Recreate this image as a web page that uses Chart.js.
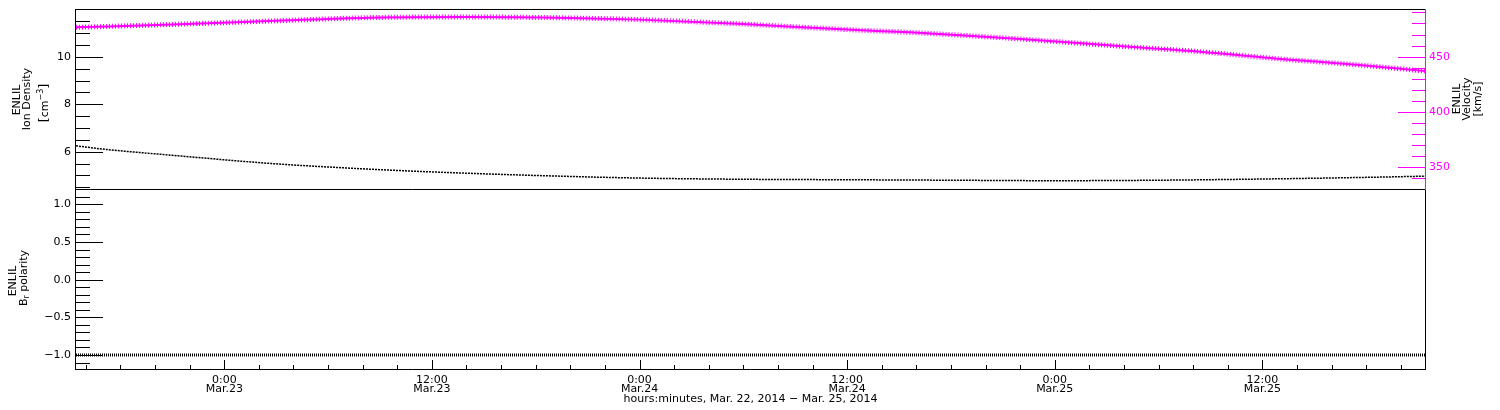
<!DOCTYPE html>
<html>
<head>
<meta charset="utf-8">
<script src="https://cdn.jsdelivr.net/npm/chart.js@4.4.1/dist/chart.umd.min.js"></script>
<style>
  html, body { margin: 0; padding: 0; background: #fff; }
  #wrap { position: relative; width: 1500px; height: 410px; overflow: hidden; }
  .pane { position: absolute; left: 0; width: 1500px; }
  #top { top: 0; height: 190px; }
  #bottom { top: 190px; height: 220px; }
</style>
</head>
<body>
<div id="wrap">
  <div class="pane" id="top"><canvas id="upper"></canvas></div>
  <div class="pane" id="bottom"><canvas id="lower"></canvas></div>
</div>
<script>
// time is in hours since Mar.23 0:00
const densityTimes  = [-8.57, -7, -3, 2.6, 8, 12, 18, 24, 30, 36, 42, 48, 54, 60, 66, 69.4];
const densityValues = [6.25, 6.11, 5.85, 5.51, 5.28, 5.15, 5.0, 4.89, 4.84, 4.82, 4.80, 4.78, 4.80, 4.85, 4.92, 4.97];

const velocityTimes  = [-8.57, -3, 2.6, 8.4, 14, 20, 24, 30, 36, 39.6, 43, 46, 52.5, 56.4, 61, 65.6, 69.4];
const velocityValues = [476.5, 479.2, 482.2, 485.3, 485.9, 485.0, 483.5, 479.5, 474.5, 472.0, 469.0, 466.0, 458.7, 454.5, 448.0, 442.5, 437.0];

const polarityTimes  = [-8.57, 0, 24, 48, 69.4];
const polarityValues = [-1, -1, -1, -1, -1];

const timeTicks = [0, 12, 24, 36, 48, 60];
const timeTickLabels = [
  ['0:00', 'Mar.23'], ['12:00', 'Mar.23'],
  ['0:00', 'Mar.24'], ['12:00', 'Mar.24'],
  ['0:00', 'Mar.25'], ['12:00', 'Mar.25']
];
const densityTicks = [6, 8, 10];
const velocityTicks = [350, 400, 450];
const polarityTicks = [-1, -0.5, 0, 0.5, 1];

const X_MIN = -8.57, X_MAX = 69.4;
const MAGENTA = '#ff00ff';
const FONT = 'DejaVu Sans';

function steps(from, to, step, skip) {
  const out = [];
  for (let i = 0; ; i++) {
    const v = +(from + i * step).toFixed(4);
    if (v > to + 1e-9) break;
    if (!skip.some(s => Math.abs(s - v) < 1e-6)) out.push(v);
  }
  return out;
}

function toPoints(xs, ys) {
  return xs.map((x, i) => ({ x: x, y: ys[i] }));
}

// draws a rotated (bottom-to-top) label made of pieces
function drawUpText(ctx, cx, cy, pieces) {
  ctx.save();
  ctx.translate(cx, cy);
  ctx.rotate(-Math.PI / 2);
  ctx.textBaseline = 'middle';
  ctx.textAlign = 'left';
  let total = 0;
  pieces.forEach(p => {
    ctx.font = (p.size || 11) + 'px "' + FONT + '"';
    p.w = ctx.measureText(p.text).width;
    total += p.w;
  });
  let x = -total / 2;
  pieces.forEach(p => {
    ctx.font = (p.size || 11) + 'px "' + FONT + '"';
    ctx.fillStyle = p.color || '#000';
    ctx.fillText(p.text, x, p.dy || 0);
    x += p.w;
  });
  ctx.restore();
}

const rootFrame = {
  id: 'rootFrame',
  afterDraw(chart, args, opts) {
    const ctx = chart.ctx;
    const a = chart.chartArea;
    ctx.save();
    ctx.lineWidth = 1;
    (opts.edges || []).forEach(e => {
      ctx.strokeStyle = e.color;
      ctx.beginPath();
      if (e.side === 'top') { ctx.moveTo(a.left - 1, a.top - 0.5); ctx.lineTo(a.right + 1, a.top - 0.5); }
      if (e.side === 'bottom') { ctx.moveTo(a.left - 1, a.bottom + 0.5); ctx.lineTo(a.right + 1, a.bottom + 0.5); }
      if (e.side === 'left') { ctx.moveTo(a.left - 0.5, a.top - 1); ctx.lineTo(a.left - 0.5, a.bottom + 1); }
      if (e.side === 'right') { ctx.moveTo(a.right + 0.5, a.top - 1); ctx.lineTo(a.right + 0.5, a.bottom + 1); }
      ctx.stroke();
    });
    (opts.marks || []).forEach(t => {
      const scale = chart.scales[t.axis];
      ctx.strokeStyle = t.color;
      ctx.beginPath();
      const mark = (v, len) => {
        const p = Math.round(scale.getPixelForValue(v)) + 0.5;
        if (t.side === 'left') { ctx.moveTo(a.left, p); ctx.lineTo(a.left + len, p); }
        else if (t.side === 'right') { ctx.moveTo(a.right, p); ctx.lineTo(a.right - len, p); }
        else { ctx.moveTo(p, a.bottom); ctx.lineTo(p, a.bottom - len); }
      };
      t.major.forEach(v => mark(v, t.majorLen));
      t.minor.forEach(v => mark(v, t.minorLen));
      ctx.stroke();
    });
    (opts.titles || []).forEach(tt => drawUpText(ctx, tt.x, tt.y, tt.pieces));
    ctx.restore();
  }
};

function yAxis(pos, min, max, list, color, width, fmt) {
  return {
    type: 'linear', position: pos, min: min, max: max,
    afterBuildTicks: s => { s.ticks = list.map(v => ({ value: v })); },
    afterFit: s => { s.width = width; s.paddingTop = 0; s.paddingBottom = 0; },
    grid: { display: false, drawTicks: false },
    border: { display: false },
    ticks: {
      color: color, padding: pos === 'left' ? 5 : 4,
      font: { family: FONT, size: 11 },
      callback: fmt
    }
  };
}

const upper = new Chart(document.getElementById('upper'), {
  type: 'line',
  data: {
    datasets: [
      {
        data: toPoints(densityTimes, densityValues), yAxisID: 'y',
        borderColor: '#000', borderWidth: 1.5, borderDash: [2, 1],
        pointRadius: 0, cubicInterpolationMode: 'monotone'
      },
      {
        data: toPoints(velocityTimes, velocityValues), yAxisID: 'y1',
        borderColor: MAGENTA, borderWidth: 2,
        pointRadius: 0, cubicInterpolationMode: 'monotone'
      },
      {
        data: toPoints(velocityTimes, velocityValues), yAxisID: 'y1',
        borderColor: MAGENTA, borderWidth: 5, borderDash: [1, 2], borderCapStyle: 'butt',
        pointRadius: 0, cubicInterpolationMode: 'monotone'
      }
    ]
  },
  options: {
    responsive: true, maintainAspectRatio: false, animation: false, devicePixelRatio: 1,
    layout: { padding: { top: 10, bottom: 1, left: 0, right: 0 } },
    plugins: {
      legend: { display: false }, tooltip: { enabled: false },
      rootFrame: {
        edges: [
          { side: 'top', color: '#000' }, { side: 'bottom', color: '#000' },
          { side: 'left', color: '#000' }, { side: 'right', color: MAGENTA }
        ],
        marks: [
          { axis: 'y', side: 'left', color: '#000', major: densityTicks, minor: steps(4.5, 11.5, 0.5, densityTicks), majorLen: 27, minorLen: 14 },
          { axis: 'y1', side: 'right', color: MAGENTA, major: velocityTicks, minor: steps(340, 490, 10, velocityTicks), majorLen: 27, minorLen: 13 }
        ],
        titles: [
          { x: 16.7, y: 100, pieces: [{ text: 'ENLIL' }] },
          { x: 27, y: 99, pieces: [{ text: 'Ion Density' }] },
          { x: 45, y: 103, pieces: [{ text: '[', size: 13 }, { text: 'cm' }, { text: '\u22123', size: 8, dy: -4 }, { text: ']', size: 13 }] },
          { x: 1457, y: 99, pieces: [{ text: 'ENLIL' }] },
          { x: 1467.5, y: 99, pieces: [{ text: 'Velocity' }] },
          { x: 1478, y: 99, pieces: [{ text: '[km/s]' }] }
        ]
      }
    },
    scales: {
      x: { type: 'linear', min: X_MIN, max: X_MAX, display: false },
      y: yAxis('left', 4.43, 11.97, densityTicks, '#000', 76, v => String(v)),
      y1: yAxis('right', 330.4, 492.2, velocityTicks, MAGENTA, 75, v => String(v))
    }
  },
  plugins: [rootFrame]
});

const lower = new Chart(document.getElementById('lower'), {
  type: 'line',
  data: {
    datasets: [{
      data: toPoints(polarityTimes, polarityValues),
      borderColor: '#000', borderWidth: 3, borderDash: [1, 1], borderCapStyle: 'butt',
      pointRadius: 0
    }]
  },
  options: {
    responsive: true, maintainAspectRatio: false, animation: false, devicePixelRatio: 1,
    layout: { padding: { top: 0, bottom: 0, left: 0, right: 0 } },
    plugins: {
      legend: { display: false }, tooltip: { enabled: false },
      rootFrame: {
        edges: [
          { side: 'bottom', color: '#000' }, { side: 'left', color: '#000' }, { side: 'right', color: '#000' }
        ],
        marks: [
          { axis: 'y', side: 'left', color: '#000', major: polarityTicks, minor: steps(-1.1, 1.1, 0.1, polarityTicks), majorLen: 27, minorLen: 14 },
          { axis: 'x', side: 'bottom', color: '#000', major: timeTicks, minor: steps(-8, 68, 2, timeTicks), majorLen: 9, minorLen: 4 }
        ],
        titles: [
          { x: 13.3, y: 91, pieces: [{ text: 'ENLIL' }] },
          { x: 24, y: 88, pieces: [{ text: 'B' }, { text: 'r', size: 8, dy: 3 }, { text: ' polarity' }] }
        ]
      }
    },
    scales: {
      x: {
        type: 'linear', position: 'bottom', min: X_MIN, max: X_MAX,
        afterBuildTicks: s => { s.ticks = timeTicks.map(v => ({ value: v })); },
        afterFit: s => { s.height = 41; s.paddingLeft = 0; s.paddingRight = 0; },
        grid: { display: false, drawTicks: false },
        border: { display: false },
        ticks: {
          autoSkip: false, maxRotation: 0, minRotation: 0, padding: 7, color: '#000',
          font: { family: FONT, size: 11, lineHeight: '9px' },
          callback: (v, i) => timeTickLabels[i]
        },
        title: {
          display: true, text: 'hours:minutes, Mar. 22, 2014 \u2212 Mar. 25, 2014', color: '#000',
          font: { family: FONT, size: 11 }, padding: { top: 0, bottom: 4 }
        }
      },
      y: yAxis('left', -1.186, 1.19, polarityTicks, '#000', 76, v => v.toFixed(1).replace('-', '\u2212')),
      y1: {
        type: 'linear', position: 'right', display: true,
        afterFit: s => { s.width = 75; s.paddingTop = 0; s.paddingBottom = 0; },
        ticks: { display: false }, grid: { display: false, drawTicks: false }, border: { display: false }
      }
    }
  },
  plugins: [rootFrame]
});
</script>
</body>
</html>
